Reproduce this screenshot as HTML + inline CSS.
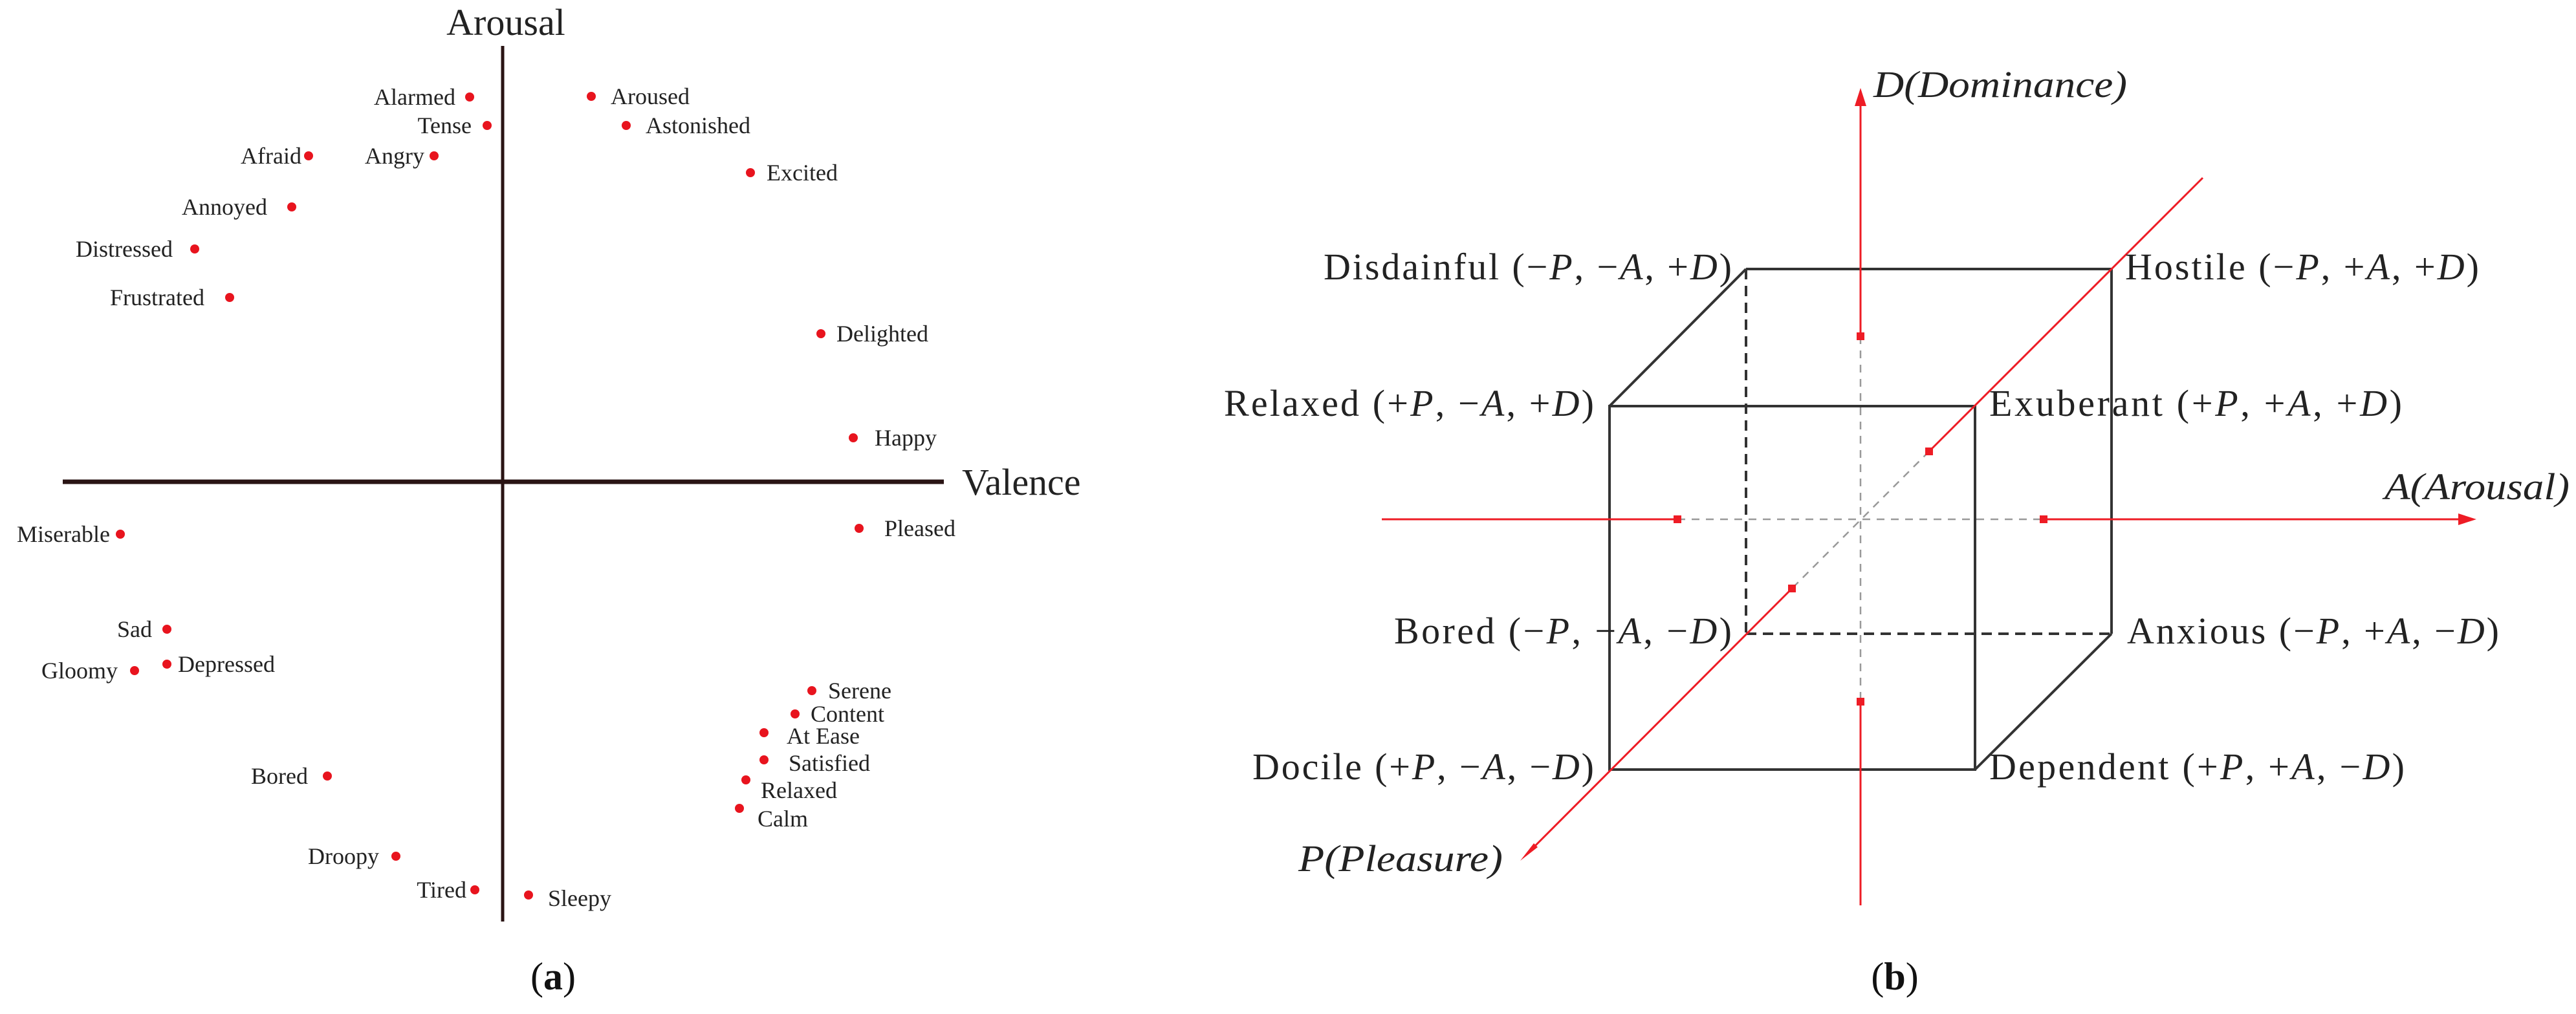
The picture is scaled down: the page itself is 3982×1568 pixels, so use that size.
<!DOCTYPE html>
<html><head><meta charset="utf-8"><style>html,body{margin:0;padding:0;background:#fff}svg{display:block}</style></head>
<body>
<svg width="3982" height="1568" viewBox="0 0 3982 1568" xmlns="http://www.w3.org/2000/svg" font-family="'Liberation Serif', serif">
<rect width="3982" height="1568" fill="#fff"/>
<!-- Panel (a) -->
<line x1="777" y1="71" x2="777" y2="1425" stroke="#2a1414" stroke-width="5"/>
<line x1="97" y1="745" x2="1459" y2="745" stroke="#2a1414" stroke-width="7"/>
<text x="782" y="54" font-size="58" text-anchor="middle" fill="#222">Arousal</text>
<text x="1487" y="765" font-size="58" fill="#222">Valence</text>
<g fill="#e8141e">
<circle cx="726" cy="150" r="7"/><circle cx="753" cy="194" r="7"/><circle cx="477" cy="241" r="7"/>
<circle cx="671" cy="241" r="7"/><circle cx="451" cy="320" r="7"/><circle cx="301" cy="385" r="7"/>
<circle cx="355" cy="460" r="7"/><circle cx="914" cy="149" r="7"/><circle cx="968" cy="194" r="7"/>
<circle cx="1160" cy="267" r="7"/><circle cx="1269" cy="516" r="7"/><circle cx="1319" cy="677" r="7"/>
<circle cx="186" cy="826" r="7"/><circle cx="1328" cy="817" r="7"/><circle cx="258" cy="973" r="7"/>
<circle cx="208" cy="1037" r="7"/><circle cx="258" cy="1027" r="7"/><circle cx="1255" cy="1068" r="7"/>
<circle cx="1229" cy="1104" r="7"/><circle cx="1181" cy="1133" r="7"/><circle cx="1181" cy="1175" r="7"/>
<circle cx="1153" cy="1206" r="7"/><circle cx="1143" cy="1250" r="7"/><circle cx="506" cy="1200" r="7"/>
<circle cx="612" cy="1324" r="7"/><circle cx="734" cy="1376" r="7"/><circle cx="817" cy="1384" r="7"/>
</g>
<g font-size="36" fill="#222">
<g text-anchor="end">
<text x="704" y="162">Alarmed</text>
<text x="729" y="206">Tense</text>
<text x="466" y="253">Afraid</text>
<text x="656" y="253">Angry</text>
<text x="413" y="332">Annoyed</text>
<text x="267" y="397">Distressed</text>
<text x="316" y="472">Frustrated</text>
<text x="170" y="838">Miserable</text>
<text x="235" y="985">Sad</text>
<text x="182" y="1049">Gloomy</text>
<text x="476" y="1212">Bored</text>
<text x="586" y="1336">Droopy</text>
<text x="721" y="1388">Tired</text>
</g>
<text x="944" y="161">Aroused</text>
<text x="998" y="206">Astonished</text>
<text x="1185" y="279">Excited</text>
<text x="1293" y="528">Delighted</text>
<text x="1352" y="689">Happy</text>
<text x="1367" y="829">Pleased</text>
<text x="275" y="1039">Depressed</text>
<text x="1280" y="1080">Serene</text>
<text x="1253" y="1116">Content</text>
<text x="1216" y="1150">At Ease</text>
<text x="1219" y="1192">Satisfied</text>
<text x="1176" y="1234">Relaxed</text>
<text x="1171" y="1278">Calm</text>
<text x="847" y="1401">Sleepy</text>
</g>
<text x="855" y="1530" font-size="60" text-anchor="middle" fill="#111">(<tspan font-weight="bold">a</tspan>)</text>

<!-- Panel (b) -->
<g stroke="#999" stroke-width="2.5" stroke-dasharray="12 10" fill="none">
<line x1="2876" y1="520" x2="2876" y2="1085"/>
<line x1="2593" y1="803" x2="3159" y2="803"/>
<line x1="2982" y1="698" x2="2770" y2="910"/>
</g>
<g stroke="#333" stroke-width="4" fill="none">
<line x1="2699" y1="416" x2="2699" y2="980" stroke-dasharray="16 10"/>
<line x1="2699" y1="980" x2="3264" y2="980" stroke-dasharray="16 10"/>
<line x1="2699" y1="416" x2="3264" y2="416"/>
<line x1="3264" y1="416" x2="3264" y2="980"/>
<rect x="2488" y="628" width="565" height="562"/>
<line x1="2488" y1="628" x2="2699" y2="416"/>
<line x1="3053" y1="1190" x2="3264" y2="980"/>
</g>
<g stroke="#ee1c25" stroke-width="3" fill="none">
<line x1="2876" y1="160" x2="2876" y2="520"/>
<line x1="2876" y1="1085" x2="2876" y2="1400"/>
<line x1="2136" y1="803" x2="2593" y2="803"/>
<line x1="3159" y1="803" x2="3806" y2="803"/>
<line x1="3405" y1="275" x2="2982" y2="698"/>
<line x1="2770" y1="910" x2="2365" y2="1316"/>
</g>
<g fill="#ee1c25">
<polygon points="2876,136 2867,164 2885,164"/>
<polygon points="3828,803 3800,794 3800,812"/>
<polygon points="2350,1331 2371,1304 2377,1310"/>
<rect x="2870" y="514" width="12" height="12"/><rect x="2870" y="1079" width="12" height="12"/>
<rect x="2587" y="797" width="12" height="12"/><rect x="3153" y="797" width="12" height="12"/>
<rect x="2976" y="692" width="12" height="12"/><rect x="2764" y="904" width="12" height="12"/>
</g>
<g font-size="58" fill="#222">
<text x="2896" y="150" font-style="italic" textLength="392" lengthAdjust="spacingAndGlyphs">D(Dominance)</text>
<text x="3686" y="772" font-style="italic" textLength="286" lengthAdjust="spacingAndGlyphs">A(Arousal)</text>
<text x="2007" y="1347" font-style="italic" textLength="316" lengthAdjust="spacingAndGlyphs">P(Pleasure)</text>
<text x="2046" y="432" textLength="631">Disdainful (−<tspan font-style="italic">P</tspan>, −<tspan font-style="italic">A</tspan>, +<tspan font-style="italic">D</tspan>)</text>
<text x="1892" y="643" textLength="572">Relaxed (+<tspan font-style="italic">P</tspan>, −<tspan font-style="italic">A</tspan>, +<tspan font-style="italic">D</tspan>)</text>
<text x="2155" y="995" textLength="522">Bored (−<tspan font-style="italic">P</tspan>, −<tspan font-style="italic">A</tspan>, −<tspan font-style="italic">D</tspan>)</text>
<text x="1936" y="1205" textLength="528">Docile (+<tspan font-style="italic">P</tspan>, −<tspan font-style="italic">A</tspan>, −<tspan font-style="italic">D</tspan>)</text>
<text x="3285" y="432" textLength="547">Hostile (−<tspan font-style="italic">P</tspan>, +<tspan font-style="italic">A</tspan>, +<tspan font-style="italic">D</tspan>)</text>
<text x="3075" y="643" textLength="638">Exuberant (+<tspan font-style="italic">P</tspan>, +<tspan font-style="italic">A</tspan>, +<tspan font-style="italic">D</tspan>)</text>
<text x="3288" y="995" textLength="575">Anxious (−<tspan font-style="italic">P</tspan>, +<tspan font-style="italic">A</tspan>, −<tspan font-style="italic">D</tspan>)</text>
<text x="3075" y="1205" textLength="642">Dependent (+<tspan font-style="italic">P</tspan>, +<tspan font-style="italic">A</tspan>, −<tspan font-style="italic">D</tspan>)</text>
</g>
<text x="2929" y="1530" font-size="60" text-anchor="middle" fill="#111">(<tspan font-weight="bold">b</tspan>)</text>
</svg>
</body></html>
